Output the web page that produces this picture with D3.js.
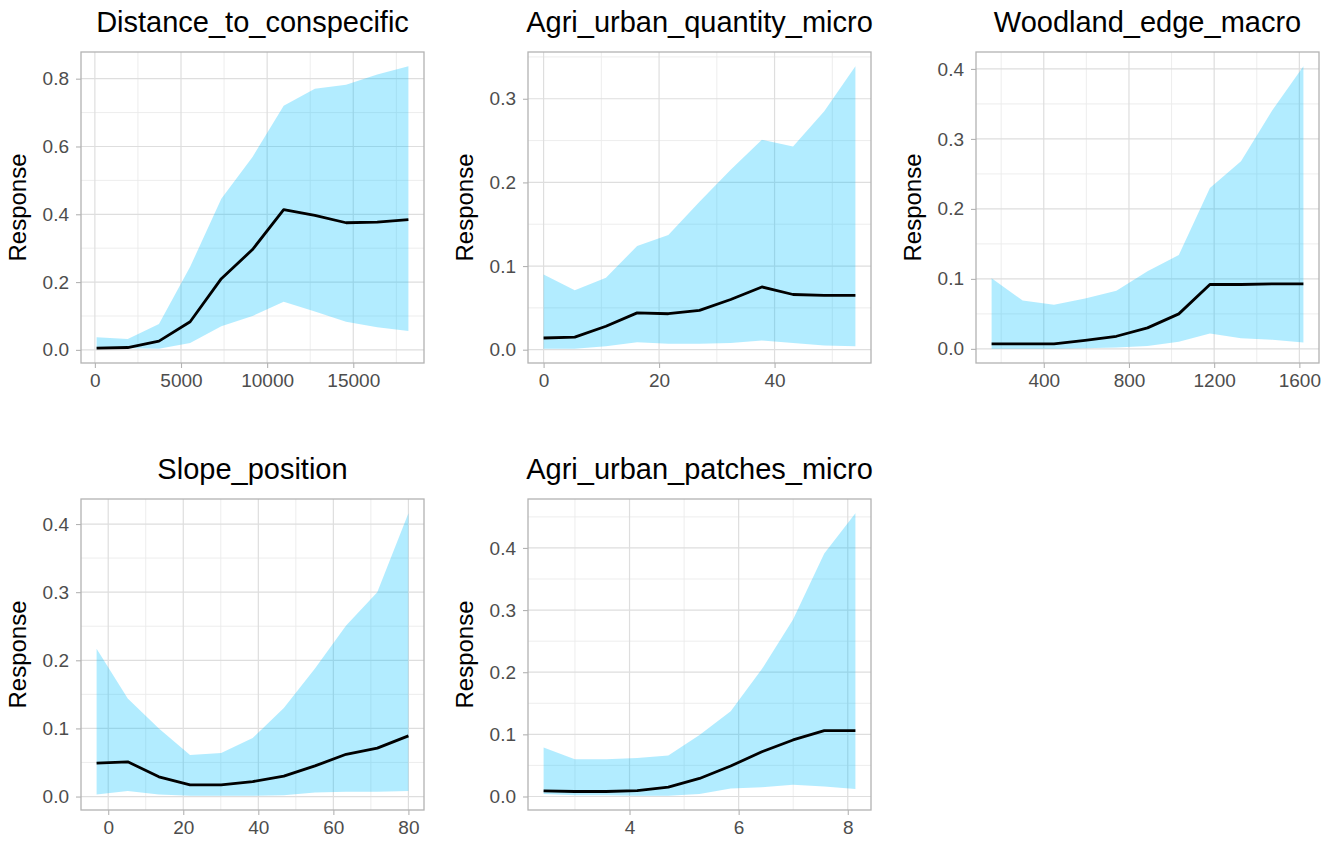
<!DOCTYPE html>
<html>
<head>
<meta charset="utf-8">
<script src="https://cdn.jsdelivr.net/npm/d3@7"></script>
<style>
  body { margin: 0; background: #fff; }
  svg text { font-family: "Liberation Sans", Arial, sans-serif; }
</style>
</head>
<body>
<svg id="chart" width="1339" height="845"></svg>
<script>
// ---- data ----
var distX     = [100, 1910, 3720, 5530, 7340, 9150, 10960, 12770, 14580, 16390, 18200];
var distMean  = [0.005, 0.007, 0.026, 0.083, 0.210, 0.296, 0.414, 0.397, 0.375, 0.377, 0.384];
var distLower = [0.003, 0.005, 0.003, 0.020, 0.070, 0.100, 0.142, 0.113, 0.083, 0.067, 0.056];
var distUpper = [0.037, 0.032, 0.076, 0.245, 0.446, 0.569, 0.720, 0.770, 0.782, 0.812, 0.837];
var distTicksX = [0, 5000, 10000, 15000];
var distTicksY = [0, 0.2, 0.4, 0.6, 0.8];

var quantX     = [0, 5.4, 10.8, 16.2, 21.6, 27, 32.4, 37.8, 43.2, 48.6, 54];
var quantMean  = [0.014, 0.015, 0.028, 0.044, 0.043, 0.047, 0.060, 0.075, 0.066, 0.065, 0.065];
var quantLower = [0.001, 0.001, 0.004, 0.009, 0.007, 0.007, 0.008, 0.011, 0.008, 0.005, 0.004];
var quantUpper = [0.090, 0.071, 0.086, 0.124, 0.137, 0.177, 0.215, 0.251, 0.243, 0.285, 0.339];
var quantTicksX = [0, 20, 40];
var quantTicksY = [0, 0.1, 0.2, 0.3];

var woodX     = [155, 301, 448, 594, 741, 887, 1034, 1180, 1326, 1473, 1619];
var woodMean  = [0.007, 0.007, 0.007, 0.012, 0.018, 0.030, 0.050, 0.092, 0.092, 0.093, 0.093];
var woodLower = [0.000, 0.000, 0.000, 0.001, 0.002, 0.004, 0.010, 0.022, 0.015, 0.013, 0.009];
var woodUpper = [0.101, 0.069, 0.063, 0.072, 0.083, 0.111, 0.134, 0.230, 0.268, 0.341, 0.404];
var woodTicksX = [400, 800, 1200, 1600];
var woodTicksY = [0, 0.1, 0.2, 0.3, 0.4];

var slopeX     = [-3.1, 5.2, 13.5, 21.8, 30.1, 38.5, 46.8, 55.1, 63.4, 71.7, 80];
var slopeMean  = [0.049, 0.051, 0.029, 0.017, 0.017, 0.022, 0.030, 0.045, 0.062, 0.071, 0.089];
var slopeLower = [0.003, 0.008, 0.003, 0.001, 0.001, 0.001, 0.002, 0.006, 0.007, 0.007, 0.008];
var slopeUpper = [0.217, 0.144, 0.100, 0.061, 0.064, 0.086, 0.130, 0.188, 0.251, 0.300, 0.416];
var slopeTicksX = [0, 20, 40, 60, 80];
var slopeTicksY = [0, 0.1, 0.2, 0.3, 0.4];

var patchX     = [2.425, 2.997, 3.568, 4.140, 4.711, 5.283, 5.854, 6.426, 6.997, 7.569, 8.14];
var patchMean  = [0.009, 0.008, 0.008, 0.0095, 0.015, 0.029, 0.049, 0.072, 0.091, 0.106, 0.106];
var patchLower = [0.004, 0.002, 0.002, 0.001, 0.001, 0.004, 0.013, 0.015, 0.019, 0.016, 0.012];
var patchUpper = [0.079, 0.060, 0.060, 0.062, 0.066, 0.099, 0.137, 0.205, 0.285, 0.391, 0.456];
var patchTicksX = [4, 6, 8];
var patchTicksY = [0, 0.1, 0.2, 0.3, 0.4];

var titles = ["Distance_to_conspecific", "Agri_urban_quantity_micro", "Woodland_edge_macro",
              "Slope_position", "Agri_urban_patches_micro"];

var svg = d3.select("#chart");

var colLeft = [81, 528, 976], colWidth = 343;
var rowTop = [52, 499], rowHeight = 311;

function expand(ext) {
    var pad = (ext[1] - ext[0]) * 0.05;
    return [ext[0] - pad, ext[1] + pad];
}

// minor breaks halfway between the major ones, like ggplot
function minorBreaks(major, domain) {
    var step = major[1] - major[0];
    var out = [];
    for (var i = -1; i < major.length; i++) {
        var v = major[0] + step * (i + 0.5);
        if (v > domain[0] && v < domain[1]) out.push(v);
    }
    return out;
}

function drawPanel(idx, title, xs, mean, lower, upper, ticksX, ticksY, xFmt) {
    var left = colLeft[idx % 3], top = rowTop[Math.floor(idx / 3)];
    var g = svg.append("g").attr("transform", "translate(" + left + "," + top + ")");

    var rows = xs.map(function(x, i) { return {x: x, m: mean[i], lo: lower[i], hi: upper[i]}; });

    var x = d3.scaleLinear().domain(expand(d3.extent(xs))).range([0, colWidth]);
    var y = d3.scaleLinear()
        .domain(expand([d3.min(lower), d3.max(upper)]))
        .range([rowHeight, 0]);

    // minor grid
    g.append("g").selectAll("line")
        .data(minorBreaks(ticksY, y.domain()))
        .enter().append("line")
        .attr("x1", 0).attr("x2", colWidth)
        .attr("y1", function(d) { return y(d); }).attr("y2", function(d) { return y(d); })
        .attr("stroke", "#ebebeb").attr("stroke-width", 0.9);
    g.append("g").selectAll("line")
        .data(minorBreaks(ticksX, x.domain()))
        .enter().append("line")
        .attr("y1", 0).attr("y2", rowHeight)
        .attr("x1", function(d) { return x(d); }).attr("x2", function(d) { return x(d); })
        .attr("stroke", "#ebebeb").attr("stroke-width", 0.9);

    // major grid
    g.append("g").selectAll("line")
        .data(ticksY)
        .enter().append("line")
        .attr("x1", 0).attr("x2", colWidth)
        .attr("y1", function(d) { return y(d); }).attr("y2", function(d) { return y(d); })
        .attr("stroke", "#dedede").attr("stroke-width", 1.2);
    g.append("g").selectAll("line")
        .data(ticksX)
        .enter().append("line")
        .attr("y1", 0).attr("y2", rowHeight)
        .attr("x1", function(d) { return x(d); }).attr("x2", function(d) { return x(d); })
        .attr("stroke", "#dedede").attr("stroke-width", 1.2);

    // ribbon
    g.append("path")
        .datum(rows)
        .attr("fill", "#00bfff")
        .attr("fill-opacity", 0.3)
        .attr("d", d3.area()
            .x(function(d) { return x(d.x); })
            .y0(function(d) { return y(d.lo); })
            .y1(function(d) { return y(d.hi); }));

    // mean line
    g.append("path")
        .datum(rows)
        .attr("fill", "none")
        .attr("stroke", "#000")
        .attr("stroke-width", 2.8)
        .attr("stroke-linejoin", "round")
        .attr("d", d3.line()
            .x(function(d) { return x(d.x); })
            .y(function(d) { return y(d.m); }));

    // axes
    var xAxis = g.append("g")
        .attr("transform", "translate(0," + rowHeight + ")")
        .call(d3.axisBottom(x).tickValues(ticksX).tickSize(5).tickPadding(6).tickFormat(xFmt));
    var yAxis = g.append("g")
        .call(d3.axisLeft(y).tickValues(ticksY).tickSize(5).tickPadding(7).tickFormat(d3.format(".1f")));
    [xAxis, yAxis].forEach(function(ax) {
        ax.select(".domain").remove();
        ax.selectAll(".tick line").attr("stroke", "#b3b3b3").attr("stroke-width", 1.1);
        ax.selectAll(".tick text")
            .attr("fill", "#4d4d4d")
            .style("font-size", "19px")
            .style("font-family", "'Liberation Sans', Arial, sans-serif");
    });

    // panel border
    g.append("rect")
        .attr("x", 0).attr("y", 0)
        .attr("width", colWidth).attr("height", rowHeight)
        .attr("fill", "none")
        .attr("stroke", "#b3b3b3")
        .attr("stroke-width", 1.3);

    // titles
    g.append("text")
        .attr("x", colWidth / 2)
        .attr("y", -20)
        .attr("text-anchor", "middle")
        .style("font-size", "29px")
        .attr("fill", "#000")
        .text(title);

    g.append("text")
        .attr("transform", "translate(-55," + (rowHeight / 2) + ") rotate(-90)")
        .attr("text-anchor", "middle")
        .style("font-size", "24px")
        .attr("fill", "#000")
        .text("Response");
}

drawPanel(0, titles[0], distX, distMean, distLower, distUpper, distTicksX, distTicksY, d3.format("d"));
drawPanel(1, titles[1], quantX, quantMean, quantLower, quantUpper, quantTicksX, quantTicksY, d3.format("d"));
drawPanel(2, titles[2], woodX, woodMean, woodLower, woodUpper, woodTicksX, woodTicksY, d3.format("d"));
drawPanel(3, titles[3], slopeX, slopeMean, slopeLower, slopeUpper, slopeTicksX, slopeTicksY, d3.format("d"));
drawPanel(4, titles[4], patchX, patchMean, patchLower, patchUpper, patchTicksX, patchTicksY, d3.format("d"));
</script>
</body>
</html>
